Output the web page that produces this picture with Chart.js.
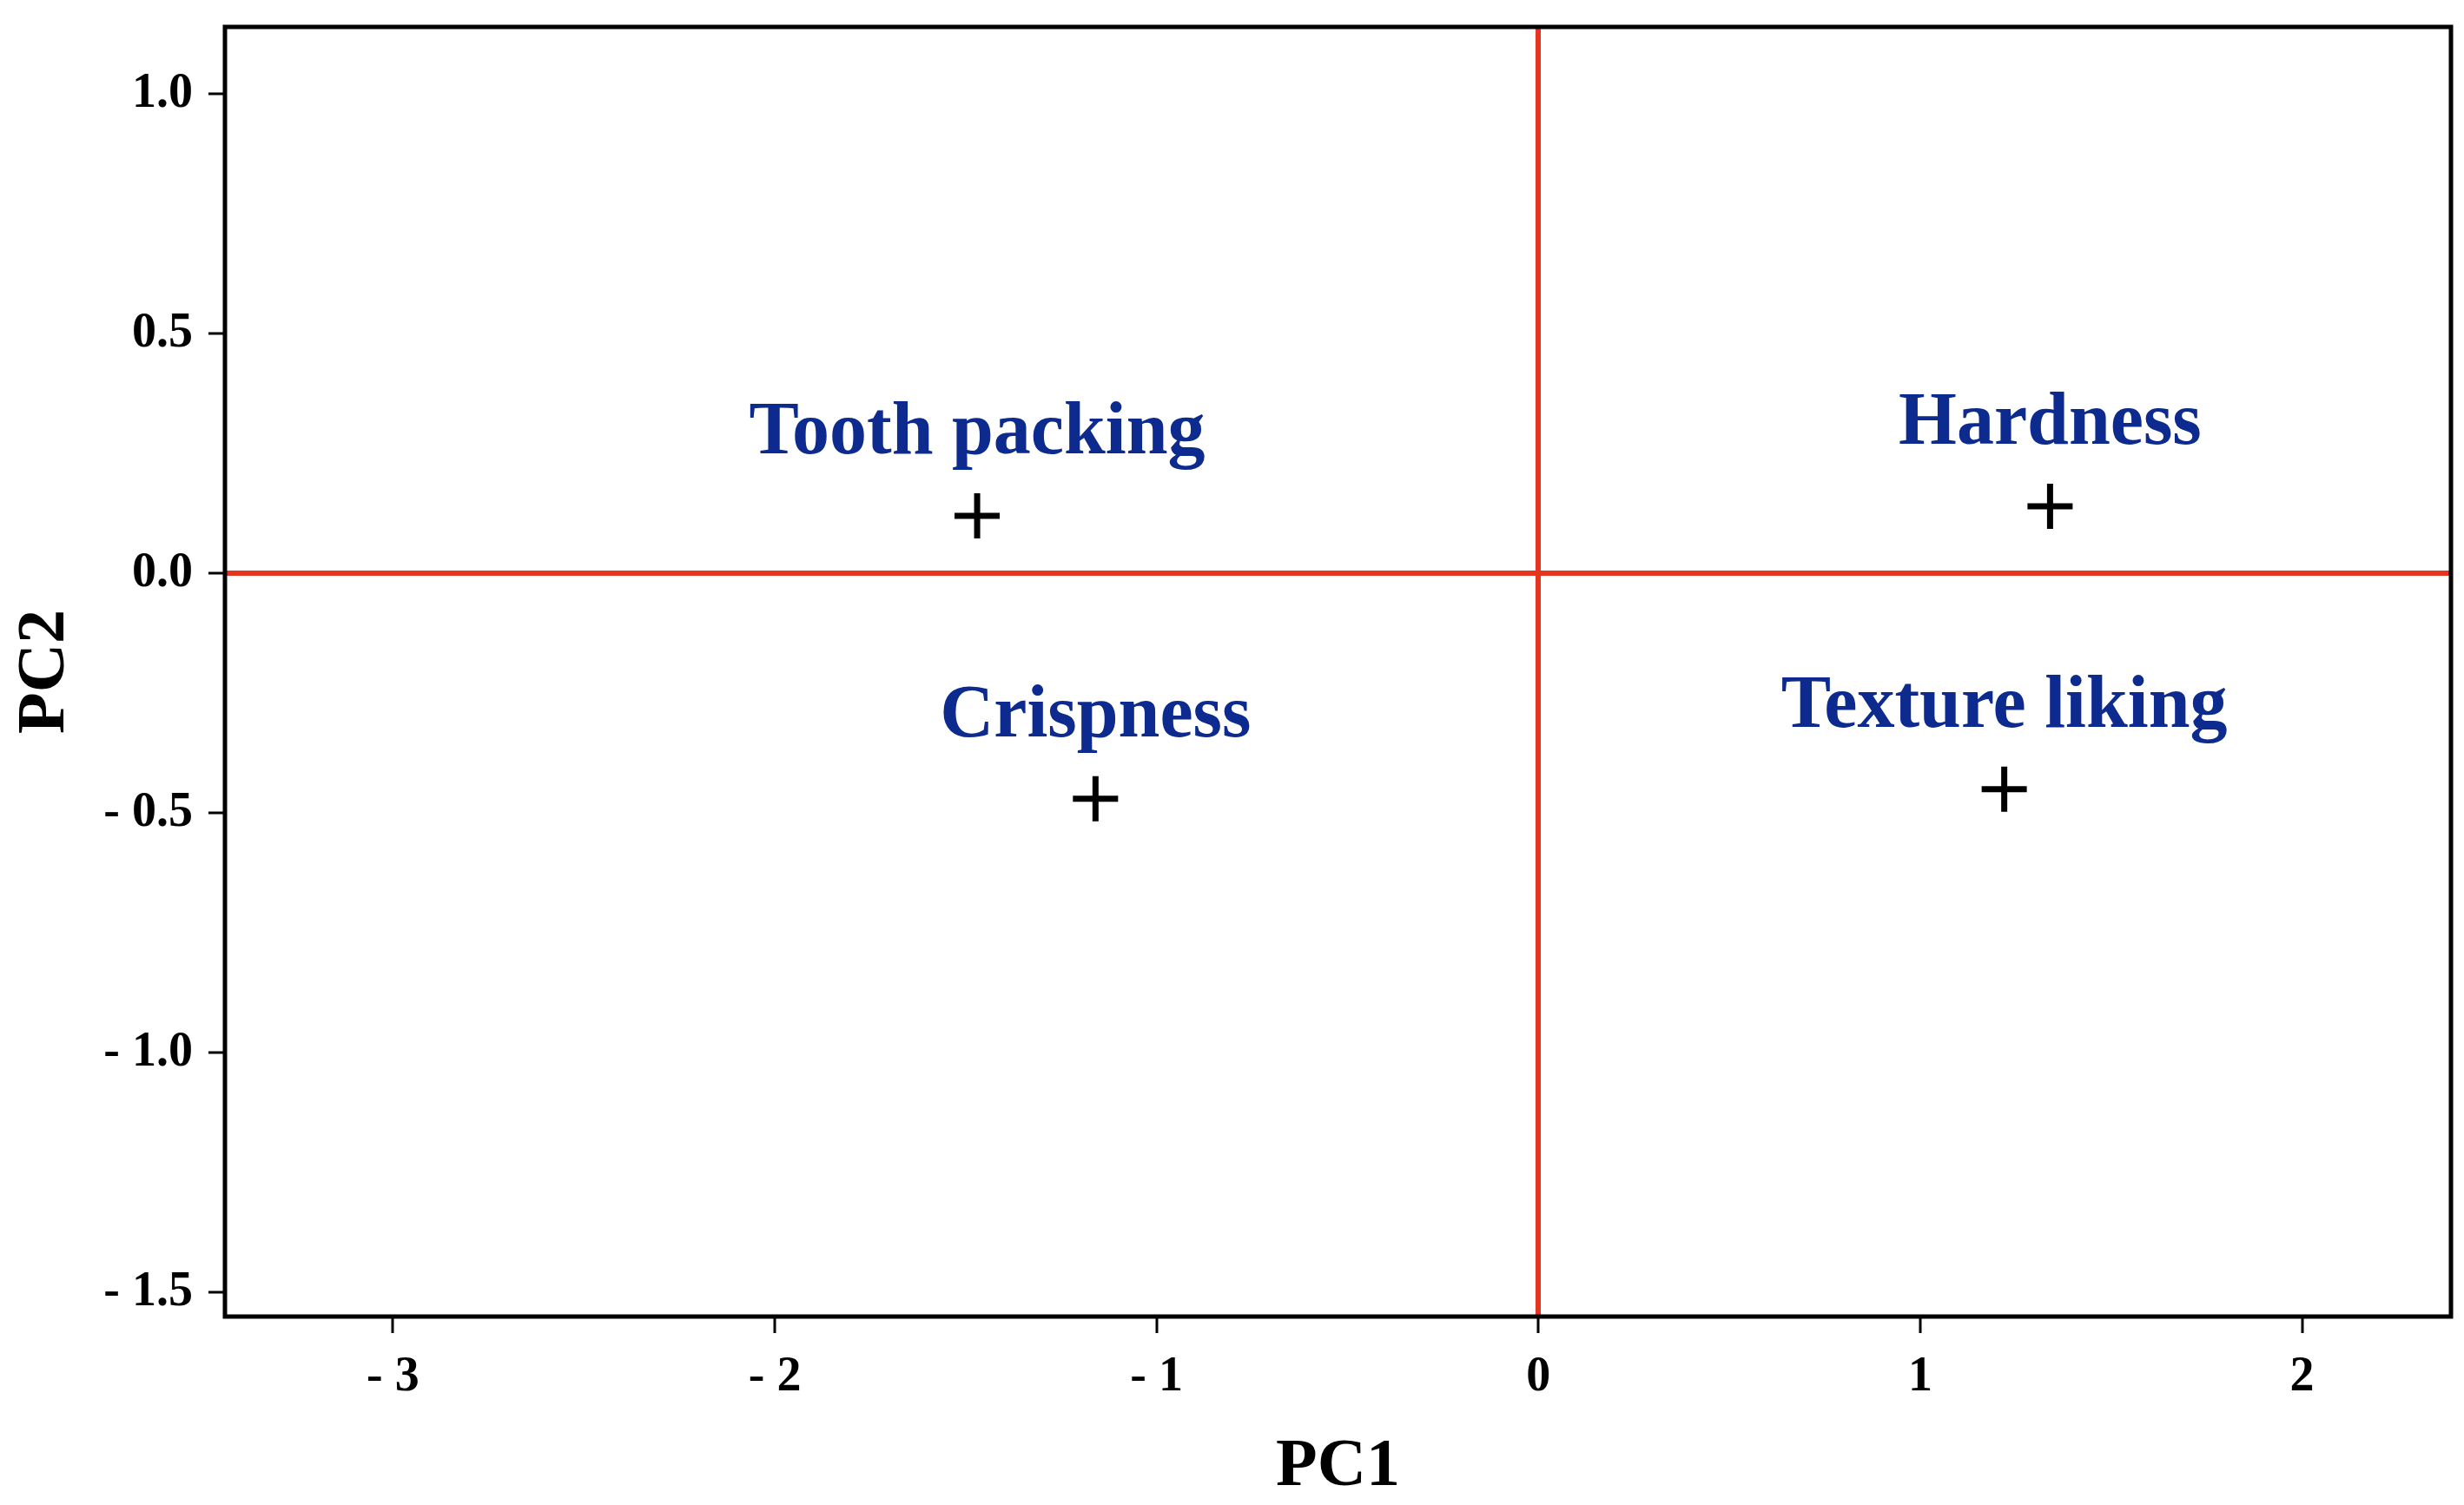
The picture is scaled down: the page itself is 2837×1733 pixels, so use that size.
<!DOCTYPE html>
<html>
<head>
<meta charset="utf-8">
<script src="https://cdn.jsdelivr.net/npm/chart.js@4.4.1/dist/chart.umd.min.js"></script>
<style>
  html, body { margin: 0; padding: 0; background: #fff; overflow: hidden; }
  #wrap { width: 2837px; height: 1733px; position: relative; }
</style>
</head>
<body>
<div id="wrap"><canvas id="pcaChart"></canvas></div>
<script>
// Attribute names and their PC1 / PC2 scores
var attributes = ['Tooth packing', 'Crispness', 'Hardness', 'Texture liking'];
var pc1Values = [-1.47, -1.16, 1.34, 1.22];
var pc2Values = [0.12, -0.47, 0.14, -0.45];

// Axis ranges and ticks
var xTicks = [-3, -2, -1, 0, 1, 2];
var yTicks = [-1.5, -1.0, -0.5, 0.0, 0.5, 1.0];
var xRange = [-3.44, 2.39];
var yRange = [-1.55, 1.14];

var RED = '#e6351f';
var BLUE = '#0d2a8e';

function negLabel(v, digits) {
  var s = Math.abs(v).toFixed(digits);
  return v < 0 ? '- ' + s : s;
}

document.addEventListener('DOMContentLoaded', function () {
  var ctx = document.getElementById('pcaChart').getContext('2d');

  var points = attributes.map(function (name, i) {
    return { x: pc1Values[i], y: pc2Values[i], name: name };
  });

  // frame round the plot area + attribute names above the crosses
  var framePlugin = {
    id: 'frameAndNames',
    afterDatasetsDraw: function (chart) {
      var a = chart.chartArea;
      var c = chart.ctx;
      c.save();
      c.strokeStyle = '#000';
      c.lineWidth = 5;
      c.strokeRect(a.left, a.top, a.right - a.left, a.bottom - a.top);

      var xs = chart.scales.x, ys = chart.scales.y;
      c.fillStyle = BLUE;
      c.font = 'bold 86px "Liberation Serif"';
      c.textAlign = 'center';
      c.textBaseline = 'alphabetic';
      points.forEach(function (p) {
        c.fillText(p.name, xs.getPixelForValue(p.x), ys.getPixelForValue(p.y) - 72);
      });
      c.restore();
    }
  };

  var zeroGrid = function (context) {
    return context.tick && context.tick.value === 0 ? RED : 'rgba(0,0,0,0)';
  };

  var config = {
    type: 'scatter',
    data: {
      datasets: [{
        data: points,
        pointStyle: 'cross',
        pointRadius: 26,
        pointHoverRadius: 26,
        borderWidth: 7,
        borderColor: '#000',
        backgroundColor: '#000'
      }]
    },
    options: {
      responsive: true,
      maintainAspectRatio: false,
      animation: false,
      layout: {
        autoPadding: false,
        padding: { top: 31, right: 15, left: 0, bottom: 0 }
      },
      plugins: {
        legend: { display: false },
        tooltip: { enabled: false }
      },
      scales: {
        x: {
          type: 'linear',
          min: xRange[0],
          max: xRange[1],
          afterFit: function (scale) {
            scale.height = 217;
            scale.paddingLeft = 0;
            scale.paddingRight = 0;
          },
          afterBuildTicks: function (scale) {
            scale.ticks = xTicks.map(function (v) { return { value: v }; });
          },
          border: { display: false },
          grid: {
            color: zeroGrid,
            lineWidth: 6,
            tickColor: '#000',
            tickWidth: 3,
            tickLength: 19
          },
          ticks: {
            color: '#000',
            padding: 18,
            font: { family: 'Liberation Serif', weight: 'bold', size: 56 },
            callback: function (v) { return negLabel(v, 0); }
          },
          title: {
            display: true,
            text: 'PC1',
            color: '#000',
            font: { family: 'Liberation Serif', weight: 'bold', size: 78, lineHeight: 1 },
            padding: { top: 0, bottom: 4 }
          }
        },
        y: {
          type: 'linear',
          min: yRange[0],
          max: yRange[1],
          afterFit: function (scale) {
            scale.width = 259;
            scale.paddingTop = 0;
            scale.paddingBottom = 0;
          },
          afterBuildTicks: function (scale) {
            scale.ticks = yTicks.map(function (v) { return { value: v }; });
          },
          border: { display: false },
          grid: {
            color: zeroGrid,
            lineWidth: 6,
            tickColor: '#000',
            tickWidth: 3,
            tickLength: 19
          },
          ticks: {
            color: '#000',
            padding: 18,
            font: { family: 'Liberation Serif', weight: 'bold', size: 56 },
            callback: function (v) { return negLabel(v, 1); }
          },
          title: {
            display: true,
            text: 'PC2',
            color: '#000',
            font: { family: 'Liberation Serif', weight: 'bold', size: 78, lineHeight: 1 },
            padding: { top: 14, bottom: 0 }
          }
        }
      }
    },
    plugins: [framePlugin]
  };

  var pcaChart = new Chart(ctx, config);
});
</script>
</body>
</html>
